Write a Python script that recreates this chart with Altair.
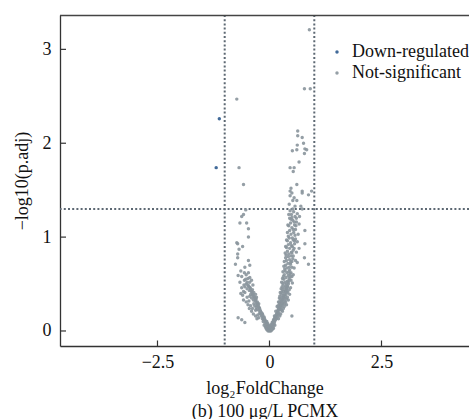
import altair as alt
import pandas as pd

# ---- data ----
down_x = [-1.12, -1.19]
down_y = [2.26, 1.74]

ns_pts = [
    # bottom tip
    (0.00,0.00),(0.02,0.01),(-0.02,0.01),(0.04,0.02),(-0.04,0.02),(0.06,0.03),(-0.06,0.03),(0.01,0.02),
    (-0.01,0.03),(0.03,0.04),(-0.03,0.05),(0.08,0.05),(-0.08,0.05),(0.05,0.06),(-0.05,0.07),(0.10,0.07),
    (-0.10,0.08),(0.07,0.08),(-0.07,0.09),(0.11,0.09),(0.00,0.04),(0.09,0.03),(-0.09,0.04),(0.12,0.06),(-0.12,0.06),
    (0.03,0.00),(-0.03,0.00),(0.05,0.01),(-0.05,0.01),(0.07,0.02),(-0.07,0.02),(0.02,0.05),(-0.02,0.06),
    (0.04,0.07),(-0.04,0.08),(0.06,0.09),(-0.06,0.10),(0.08,0.10),(-0.09,0.11),(0.09,0.12),(-0.11,0.13),
    (0.12,0.11),(0.11,0.13),(-0.13,0.14),(0.13,0.15),(-0.15,0.15),(0.15,0.17),(-0.16,0.18),(0.17,0.19),
    # 0.1-0.2
    (-0.10,0.11),(-0.13,0.12),(-0.16,0.13),(-0.12,0.15),(-0.18,0.16),(-0.15,0.17),(-0.20,0.18),(-0.22,0.19),
    (-0.17,0.19),(-0.24,0.14),(-0.26,0.17),(-0.14,0.10),(-0.36,0.18),(-0.31,0.16),(-0.28,0.13),
    (0.10,0.11),(0.13,0.12),(0.15,0.13),(0.12,0.14),(0.17,0.15),(0.14,0.16),(0.19,0.17),(0.16,0.18),
    (0.21,0.19),(0.18,0.20),(0.23,0.16),(0.20,0.13),(0.25,0.18),(0.11,0.16),
    (-0.70,0.14),(-0.62,0.12),(-0.55,0.09),(0.50,0.16),
    # 0.2-0.3
    (-0.20,0.21),(-0.24,0.22),(-0.28,0.23),(-0.22,0.24),(-0.30,0.25),(-0.26,0.26),(-0.33,0.27),(-0.28,0.28),
    (-0.24,0.29),(-0.35,0.29),(-0.31,0.22),(-0.38,0.24),(-0.42,0.27),(-0.19,0.20),(-0.21,0.22),(-0.23,0.25),
    (-0.25,0.27),(-0.27,0.29),(-0.48,0.28),(-0.45,0.24),(-0.40,0.21),
    (0.18,0.21),(0.21,0.22),(0.24,0.23),(0.20,0.24),(0.26,0.25),(0.23,0.26),(0.28,0.27),(0.25,0.28),
    (0.30,0.29),(0.22,0.29),(0.27,0.22),(0.31,0.24),(0.33,0.26),(0.19,0.27),(0.29,0.21),(0.34,0.29),
    (0.19,0.22),(0.22,0.24),(0.24,0.26),(0.26,0.28),(0.14,0.21),(0.17,0.26),(0.38,0.28),
    # 0.3-0.4
    (-0.27,0.31),(-0.32,0.32),(-0.36,0.33),(-0.30,0.34),(-0.40,0.35),(-0.34,0.36),(-0.44,0.37),(-0.38,0.38),
    (-0.31,0.39),(-0.46,0.32),(-0.42,0.39),(-0.50,0.36),(-0.29,0.36),(-0.29,0.30),(-0.31,0.33),(-0.33,0.35),
    (-0.35,0.37),(-0.37,0.39),(-0.58,0.33),(-0.60,0.38),(-0.52,0.31),
    (0.22,0.31),(0.26,0.32),(0.30,0.33),(0.24,0.34),(0.33,0.35),(0.28,0.36),(0.35,0.37),(0.31,0.38),
    (0.26,0.39),(0.37,0.39),(0.29,0.30),(0.34,0.32),(0.38,0.34),(0.23,0.37),(0.36,0.31),(0.40,0.36),
    (0.27,0.30),(0.28,0.32),(0.30,0.34),(0.31,0.36),(0.33,0.38),(0.20,0.31),(0.22,0.35),(0.42,0.33),
    # 0.4-0.5
    (-0.35,0.41),(-0.40,0.42),(-0.45,0.43),(-0.38,0.44),(-0.50,0.45),(-0.43,0.46),(-0.55,0.47),(-0.47,0.48),
    (-0.37,0.49),(-0.52,0.50),(-0.58,0.42),(-0.62,0.46),(-0.39,0.41),(-0.41,0.43),(-0.43,0.45),(-0.45,0.47),
    (-0.48,0.49),(-0.55,0.41),(-0.64,0.40),(-0.57,0.49),
    (0.27,0.41),(0.31,0.42),(0.35,0.43),(0.29,0.44),(0.38,0.45),(0.33,0.46),(0.40,0.47),(0.36,0.48),
    (0.30,0.49),(0.42,0.50),(0.34,0.40),(0.39,0.42),(0.44,0.44),(0.28,0.47),(0.41,0.41),(0.37,0.50),
    (0.36,0.42),(0.37,0.44),(0.39,0.46),(0.40,0.48),(0.24,0.41),(0.26,0.45),(0.45,0.39),(0.47,0.46),
    # 0.5-0.65
    (-0.44,0.52),(-0.56,0.54),(-0.48,0.56),(-0.62,0.58),(-0.52,0.60),(-0.44,0.57),(-0.70,0.59),(-0.56,0.62),
    (-0.47,0.62),(-0.64,0.64),(-0.40,0.54),(-0.50,0.52),(-0.53,0.55),(-0.66,0.52),
    (0.30,0.51),(0.35,0.52),(0.40,0.53),(0.32,0.55),(0.44,0.56),(0.37,0.57),(0.42,0.59),(0.33,0.60),
    (0.46,0.61),(0.39,0.62),(0.35,0.64),(0.48,0.54),(0.31,0.58),(0.43,0.63),(0.50,0.58),
    (0.42,0.52),(0.44,0.54),(0.46,0.58),(0.48,0.62),(0.27,0.52),(0.29,0.56),(0.30,0.63),(0.51,0.51),(0.53,0.60),
    # 0.65-0.8
    (-0.44,0.70),(-0.47,0.75),(-0.76,0.71),(-0.71,0.78),(-0.55,0.68),
    (0.34,0.66),(0.39,0.67),(0.44,0.68),(0.36,0.70),(0.47,0.71),(0.41,0.72),(0.50,0.74),(0.38,0.75),
    (0.45,0.76),(0.52,0.77),(0.42,0.79),(0.36,0.78),(0.48,0.80),(0.78,0.78),(0.87,0.71),(0.62,0.73),
    (0.45,0.65),(0.50,0.68),(0.47,0.73),(0.32,0.69),(0.33,0.74),(0.55,0.67),(0.58,0.75),
    # 0.8-1.0
    (-0.71,0.82),(-0.68,0.87),(-0.71,0.93),(-0.73,0.94),(-0.47,1.00),(-0.60,0.90),
    (0.37,0.81),(0.43,0.82),(0.49,0.84),(0.40,0.85),(0.53,0.86),(0.45,0.88),(0.38,0.89),(0.51,0.90),
    (0.42,0.92),(0.56,0.93),(0.47,0.94),(0.40,0.96),(0.53,0.97),(0.44,0.99),(0.58,0.98),(0.79,0.93),(0.66,0.88),
    (0.53,0.80),(0.50,0.83),(0.55,0.88),(0.49,0.91),(0.56,0.96),(0.51,0.99),(0.35,0.83),(0.36,0.90),
    (0.38,0.97),(0.60,0.84),(0.62,0.95),
    # 1.0-1.3
    (-0.47,1.09),(-0.66,1.15),(-0.51,1.15),(-0.58,1.24),(-0.53,1.29),(-0.62,1.22),
    (0.42,1.01),(0.48,1.03),(0.54,1.05),(0.45,1.07),(0.58,1.08),(0.50,1.10),(0.43,1.12),(0.56,1.13),
    (0.47,1.15),(0.60,1.16),(0.52,1.18),(0.45,1.20),(0.57,1.22),(0.49,1.24),(0.62,1.25),(0.54,1.27),
    (0.46,1.28),(0.73,1.30),(0.79,1.07),(0.50,1.21),(0.57,1.02),(0.53,1.08),(0.59,1.12),(0.55,1.16),
    (0.48,1.19),(0.60,1.20),(0.40,1.05),(0.41,1.13),(0.43,1.24),(0.64,1.03),(0.66,1.14),(0.67,1.22),
    # 1.3-1.6
    (0.52,1.39),(0.61,1.39),(0.44,1.35),(0.70,1.33),(0.46,1.49),(0.50,1.47),(0.46,1.44),(0.73,1.49),
    (0.73,1.47),(0.94,1.49),(0.87,1.45),(0.61,1.56),(0.55,1.42),(0.48,1.52),(-0.58,1.56),(0.52,1.30),(0.57,1.33),
    # 1.6-2.2
    (0.46,1.74),(0.55,1.74),(0.53,1.70),(0.66,1.80),(0.51,1.92),(0.61,1.93),(0.79,1.94),(0.83,1.93),
    (0.78,1.89),(0.63,2.13),(0.63,2.08),(0.73,2.06),(0.76,2.00),(0.62,1.98),(-0.68,1.74),
    # top
    (0.78,2.58),(0.91,2.58),(0.89,3.21),(-0.73,2.47),
]
ns_x = [p[0] for p in ns_pts]
ns_y = [p[1] for p in ns_pts]

groups = ["Down-regulated", "Not-significant"]
colors = ["#2c5a8e", "#8a959c"]
x_ticks = [-2.5, 0, 2.5]
y_ticks = [0, 1, 2, 3]
fc_thresholds = [-1, 1]
p_threshold = [1.3]

W, H = 409, 331
FONT = "Liberation Serif, Times New Roman, serif"

df = pd.DataFrame({
    "lfc": ns_x + down_x,
    "lp": ns_y + down_y,
    "group": ["Not-significant"] * len(ns_x) + ["Down-regulated"] * len(down_x),
})

xs = alt.Scale(domain=[-4.676, 4.453], nice=False, zero=False)
ys = alt.Scale(domain=[-0.16, 3.366], nice=False, zero=False)

x_axis = alt.Axis(values=x_ticks, format=".1~f", ticks=False, grid=False, labelPadding=7,
                  labelFont=FONT, labelFontSize=18, labelColor="#111111",
                  titleFont=FONT, titleFontSize=18, titleColor="#111111",
                  titleFontWeight="normal",
                  domainColor="#333333", domainWidth=1.3,
                  title=["log₂FoldChange", "(b) 100 μg/L PCMX"],
                  titleLineHeight=23, titlePadding=8)
y_axis = alt.Axis(values=y_ticks, format=".0f", ticks=False, grid=False, labelPadding=9,
                  labelFont=FONT, labelFontSize=18, labelColor="#111111",
                  titleFont=FONT, titleFontSize=18, titleColor="#111111",
                  titleFontWeight="normal",
                  domainColor="#333333", domainWidth=1.3,
                  title="−log10(p.adj)", titlePadding=11)

points = alt.Chart(df).mark_circle(size=12, opacity=0.9).encode(
    x=alt.X("lfc:Q", scale=xs, axis=x_axis),
    y=alt.Y("lp:Q", scale=ys, axis=y_axis),
    color=alt.Color("group:N", scale=alt.Scale(domain=groups, range=colors),
                    legend=alt.Legend(title=None, orient="none", legendX=268, legendY=28,
                                      symbolType="circle", symbolSize=12, labelOffset=6,
                                      rowPadding=3, padding=0, labelFont=FONT,
                                      labelFontSize=18, labelColor="#111111", labelLimit=200)),
    order=alt.Order("group:N", sort="descending"),
)

dash = [2, 2.2]
line_color = "#5d6873"
vlines = alt.Chart(pd.DataFrame({"lfc": fc_thresholds})).mark_rule(
    strokeDash=dash, color=line_color, strokeWidth=2).encode(
    x=alt.X("lfc:Q", scale=xs, axis=x_axis))
hline = alt.Chart(pd.DataFrame({"lp": p_threshold})).mark_rule(
    strokeDash=dash, color=line_color, strokeWidth=2).encode(
    y=alt.Y("lp:Q", scale=ys, axis=y_axis))

yt = alt.Chart(pd.DataFrame({"lp": y_ticks})).mark_rule(color="#333333", strokeWidth=1.2).encode(
    y=alt.Y("lp:Q", scale=ys, axis=y_axis), x=alt.value(0), x2=alt.value(6))
xt = alt.Chart(pd.DataFrame({"lfc": x_ticks})).mark_rule(color="#333333", strokeWidth=1.2).encode(
    x=alt.X("lfc:Q", scale=xs, axis=x_axis), y=alt.value(H - 5.5), y2=alt.value(H))
top = alt.Chart(pd.DataFrame({"t": [0]})).mark_rule(color="#444444", strokeWidth=1.5).encode(
    x=alt.value(0), x2=alt.value(W), y=alt.value(0.5))

chart = alt.layer(vlines, hline, points, yt, xt, top).properties(
    width=W, height=H,
    autosize=alt.AutoSizeParams(type="none"),
    padding={"left": 60, "top": 15, "right": 0, "bottom": 73},
).configure_view(stroke=None)

chart.save("out.html", embed_options={"renderer": "svg", "actions": False})
